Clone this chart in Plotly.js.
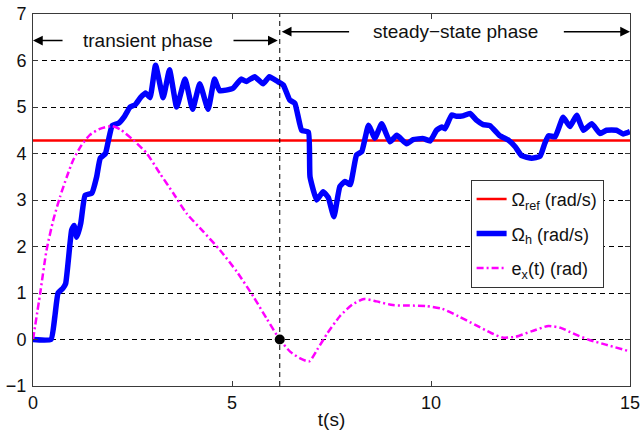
<!DOCTYPE html>
<html>
<head>
<meta charset="utf-8">
<script src="https://cdn.plot.ly/plotly-3.0.1.min.js"></script>
<style>html,body{margin:0;padding:0;background:#fff;}#chart{width:642px;height:430px;}</style>
</head>
<body>
<div id="chart"></div>
<script>
// Reference speed
const tRef = [0, 15];
const omegaRef = [4.28, 4.28];

// Measured speed Omega_h
const tH = [0, 0.45, 0.55, 0.63, 0.75, 0.82, 0.97, 1.03, 1.1, 1.2, 1.31, 1.48, 1.6, 1.69, 1.82, 1.9, 1.99, 2.15, 2.3, 2.44,
  2.57, 2.7, 2.83, 2.94, 3.08, 3.27, 3.43, 3.61, 3.82, 4.01, 4.19, 4.40, 4.56, 4.69, 5.02, 5.23, 5.36, 5.57, 5.78, 5.94,
  6.16, 6.29, 6.45, 6.58, 6.75, 6.92, 6.96, 7.13, 7.29, 7.42, 7.56, 7.71, 7.84, 7.97, 8.13, 8.26, 8.43, 8.59, 8.76, 8.97,
  9.14, 9.39, 9.55, 9.81, 9.98, 10.14, 10.27, 10.35, 10.52, 10.64, 10.8, 10.98, 11.15, 11.31, 11.48, 11.73, 11.94, 12.11, 12.28, 12.53,
  12.74, 12.86, 12.95, 13.12, 13.32, 13.49, 13.66, 13.83, 14.04, 14.25, 14.41, 14.66, 14.83, 15.0];
const omegaH = [0, 0, 0.5, 1.0, 1.1, 1.2, 2.35, 2.45, 2.2, 2.5, 3.1, 3.15, 3.5, 3.9, 4.0, 4.3, 4.6, 4.65, 4.8, 5.0,
  5.05, 5.2, 5.3, 5.2, 5.9, 5.2, 5.8, 5.0, 5.6, 4.95, 5.5, 4.95, 5.6, 5.35, 5.4, 5.6, 5.55, 5.65, 5.5, 5.65,
  5.54, 5.47, 5.15, 5.08, 4.5, 4.46, 3.5, 3.0, 3.18, 3.05, 2.64, 3.29, 3.4, 3.33, 3.97, 4.04, 4.61, 4.33, 4.64, 4.25,
  4.39, 4.21, 4.3, 4.32, 4.27, 4.5, 4.57, 4.53, 4.83, 4.8, 4.81, 4.86, 4.71, 4.62, 4.6, 4.38, 4.29, 4.15, 3.95, 3.9,
  3.94, 4.22, 4.38, 4.36, 4.78, 4.58, 4.82, 4.5, 4.64, 4.43, 4.5, 4.5, 4.42, 4.47];

// Position error e_x(t)
const tE = [0, 0.18, 0.34, 0.51, 0.68, 0.85, 1.01, 1.22, 1.43, 1.68, 1.98, 2.19, 2.52, 2.86, 3.19, 3.53, 3.86, 4.28, 4.7, 5.12,
  5.54, 5.87, 6.2, 6.46, 6.7, 6.94, 7.14, 7.4, 7.71, 8.02, 8.32, 8.63, 9.04, 9.46, 9.87, 10.28, 10.69, 11.1, 11.51, 11.82,
  12.13, 12.54, 12.95, 13.26, 13.57, 13.98, 14.39, 14.97];
const errX = [0, 0.99, 1.92, 2.57, 3.07, 3.5, 3.86, 4.18, 4.4, 4.53, 4.59, 4.52, 4.29, 4.0, 3.57, 3.14, 2.71, 2.32, 1.92, 1.46,
  0.92, 0.45, 0, -0.26, -0.4, -0.47, -0.22, 0.14, 0.5, 0.75, 0.87, 0.82, 0.74, 0.73, 0.72, 0.66, 0.5, 0.32, 0.14, 0.04,
  0.06, 0.18, 0.29, 0.25, 0.13, -0.01, -0.11, -0.25];

// Phase switch point
const tSwitch = [6.2];
const eSwitch = [0];

const xTicks = [0, 5, 10, 15];
const yTicks = [-1, 0, 1, 2, 3, 4, 5, 6, 7];
const legendNames = ['Ω<sub>ref</sub> (rad/s)', 'Ω<sub>h</sub> (rad/s)', 'e<sub>x</sub>(t) (rad)'];
const phaseLabels = ['transient phase', 'steady−state phase'];

const FONT = 'Liberation Sans, Arial, sans-serif';

const traces = [
  {x: tRef, y: omegaRef, mode: 'lines', name: legendNames[0], legendgroup: 'g1', line: {color: '#ff0000', width: 2.5}},
  {x: tH, y: omegaH, mode: 'lines', name: legendNames[1], legendgroup: 'g2', line: {color: '#0000ff', width: 5.5, shape: 'spline', smoothing: 0.4}},
  {x: tE, y: errX, mode: 'lines', name: legendNames[2], legendgroup: 'g3', line: {color: '#ff00ff', width: 2.5, dash: '7px,3px,2px,3px', shape: 'spline', smoothing: 0.6}},
  {x: tSwitch, y: eSwitch, mode: 'markers', showlegend: false, marker: {color: '#000', size: 10}}
];

const axisCommon = {
  showline: true, linecolor: '#3a3a3a', linewidth: 1, mirror: 'allticks',
  ticks: 'inside', ticklen: 5, tickcolor: '#3a3a3a', zeroline: false,
  tickfont: {family: FONT, size: 18, color: '#111'}
};

const arrowBase = {showarrow: true, axref: 'x', ayref: 'y', xref: 'x', yref: 'y', text: '',
  arrowhead: 2, arrowsize: 1.3, arrowwidth: 1.5, arrowcolor: '#000'};

const layout = {
  width: 642, height: 430,
  margin: {l: 32.5, r: 12, t: 14, b: 44},
  paper_bgcolor: '#fff', plot_bgcolor: '#fff',
  font: {family: FONT, color: '#111'},
  xaxis: Object.assign({}, axisCommon, {range: [0, 15], tickvals: xTicks, showgrid: false,
    title: {text: 't(s)', font: {size: 19, family: FONT}, standoff: 2}}),
  yaxis: Object.assign({}, axisCommon, {range: [-1, 7], tickvals: yTicks, showgrid: true,
    gridcolor: '#000', gridwidth: 1, griddash: '5px,4px', ticklabelstandoff: 2}),
  showlegend: true,
  legend: {x: 0.733, y: 0.554, xanchor: 'left', yanchor: 'top', bgcolor: '#fff',
    bordercolor: '#333', borderwidth: 1, font: {size: 18, family: FONT},
    itemwidth: 30, tracegroupgap: 8, traceorder: 'grouped'},
  shapes: [
    {type: 'line', xref: 'x', yref: 'y', x0: tSwitch[0], x1: tSwitch[0], y0: -1, y1: 7,
      line: {color: '#000', width: 1, dash: '5px,4px'}}
  ],
  annotations: [
    Object.assign({}, arrowBase, {x: 0, y: 6.43, ax: 0.78, ay: 6.43}),
    Object.assign({}, arrowBase, {x: 6.15, y: 6.43, ax: 5.0, ay: 6.43}),
    {x: 2.89, y: 6.43, xref: 'x', yref: 'y', text: phaseLabels[0], showarrow: false,
      font: {size: 19, color: '#111', family: FONT}},
    Object.assign({}, arrowBase, {x: 6.25, y: 6.62, ax: 7.98, ay: 6.62}),
    Object.assign({}, arrowBase, {x: 15, y: 6.62, ax: 13.3, ay: 6.62}),
    {x: 10.62, y: 6.62, xref: 'x', yref: 'y', text: phaseLabels[1], showarrow: false,
      font: {size: 19, color: '#111', family: FONT}}
  ]
};

Plotly.newPlot('chart', traces, layout, {displayModeBar: false, staticPlot: true});
</script>
</body>
</html>
